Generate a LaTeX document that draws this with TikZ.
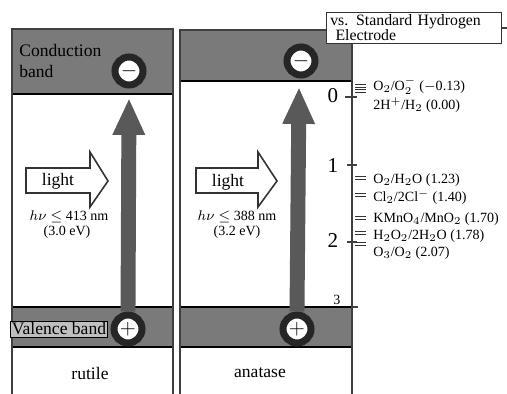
\documentclass[tikz,border=0pt]{standalone}
\usepackage{fontspec}
\setmainfont{Liberation Serif}
\usetikzlibrary{arrows.meta}

\begin{document}
\begin{tikzpicture}[
    x=0.02cm, y=-0.02cm,
    band/.style={
        draw=black,
        fill=black!52,
        line width=0.8pt
    },
    wall/.style={
        draw=black!75,
        line width=0.7pt
    },
    charge/.style={
        circle,
        draw=black!85,
        fill=white,
        line width=4pt,
        minimum size=0.56cm,
        inner sep=0pt,
        font=\large\bfseries
    },
    excite/.style={
        draw=black!65,
        line width=8.5pt,
        -{Triangle[length=21pt,width=17pt]}
    },
    lightarrow/.style={
        draw=black!80,
        fill=white,
        line width=0.9pt
    },
    level/.style={
        anchor=west,
        inner sep=0pt,
        font=\footnotesize
    },
    levelmark/.style={
        draw=black!80,
        double,
        double distance=1.2pt,
        line width=0.4pt
    }
]
    \useasboundingbox (0,0) rectangle (507,394);

    \fill[band] (12,29) rectangle (173,94);
    \fill[band] (12,307) rectangle (173,347);
    \fill[band] (180,30) rectangle (352,81);
    \fill[band] (180,307) rectangle (352,347);
    \draw[wall] (12,394) -- (12,29) -- (173,29) -- (173,394);
    \draw[wall] (180,394) -- (180,30) -- (352,30) -- (352,394);
    \draw[wall] (352,307) -- (358,307);

    \node[anchor=west, align=left, inner sep=0pt] (cb) at (19,61)
        {Conduction\\band};
    \node[draw=black, fill=black!25, inner sep=1pt, line width=0.4pt] (vb) at (59,329)
        {Valence band};

    \node[charge] (e1) at (129,71) {$-$};
    \node[charge] (e2) at (301,61) {$-$};
    \node[charge] (h1) at (128,329) {$+$};
    \node[charge] (h2) at (297,329) {$+$};

    \coordinate (tip1) at (129,98);
    \coordinate (tip2) at (299,87);
    \draw[excite] (h1.north) -- (tip1);
    \draw[excite] (h2.north) -- (tip2);

    \draw[lightarrow] (26,168) -- (90,168) -- (90,152) -- (108,181)
        -- (90,207) -- (90,193) -- (26,193) -- cycle;
    \draw[lightarrow] (196,168) -- (258,168) -- (258,152) -- (277,181)
        -- (258,207) -- (258,193) -- (196,193) -- cycle;
    \node (light1) at (58,181) {light};
    \node (light2) at (228,182) {light};

    \node[font=\footnotesize, inner sep=0pt] (nu1) at (69,217) {$h\nu\leq$ 413 nm};
    \node[font=\footnotesize, inner sep=0pt] (ev1) at (67,232) {(3.0 eV)};
    \node[font=\footnotesize, inner sep=0pt] (nu2) at (237,217) {$h\nu\leq$ 388 nm};
    \node[font=\footnotesize, inner sep=0pt] (ev2) at (237,232) {(3.2 eV)};

    \node (rut) at (90,373) {rutile};
    \node (ana) at (260,373) {anatase};

    \node[font=\large] (s0) at (333,96) {0};
    \node[font=\large] (s1) at (333,166) {1};
    \node[font=\large] (s2) at (333,241) {2};
    \node[font=\footnotesize] (s3) at (337,300) {3};
    \draw[wall] (s0.east) ++(1,1) -- ++(12,0);
    \draw[wall] (s1.east) ++(3,-1) -- ++(10,0);
    \draw[wall] (s2.east) ++(3,1) -- ++(10,0);

    \node[draw=black!80, fill=white, line width=0.7pt, align=left,
        minimum width=3.5cm, minimum height=0.62cm, inner xsep=1pt, inner ysep=1.5pt,
        text width=3.35cm, font=\fontsize{9}{8.5}\selectfont] (hdr) at (414,28)
        {vs. Standard Hydrogen\\\hspace{3pt}Electrode};
    \coordinate (edge) at (507,28);
    \draw[wall] (hdr.east) -- (edge);

    \node[level] (lv1) at (373,86) {O$_2$/O$_2^{-}$ ($-$0.13)};
    \node[level] (lv2) at (373,105) {2H$^{+}$/H$_2$ (0.00)};
    \node[level] (lv3) at (373,180) {O$_2$/H$_2$O (1.23)};
    \node[level] (lv4) at (373,197) {Cl$_2$/2Cl$^{-}$ (1.40)};
    \node[level] (lv5) at (373,219) {KMnO$_4$/MnO$_2$ (1.70)};
    \node[level] (lv6) at (373,236) {H$_2$O$_2$/2H$_2$O (1.78)};
    \node[level] (lv7) at (373,253) {O$_3$/O$_2$ (2.07)};

    \draw[levelmark] (355,86) -- (366,86);
    \draw[levelmark] (355,91) -- (366,91);
    \draw[levelmark] (355,178) -- (366,178);
    \draw[levelmark] (355,195) -- (366,195);
    \draw[levelmark] (355,218) -- (366,218);
    \draw[levelmark] (355,233) -- (366,233);
    \draw[levelmark] (355,244) -- (366,244);
\end{tikzpicture}
\end{document}
